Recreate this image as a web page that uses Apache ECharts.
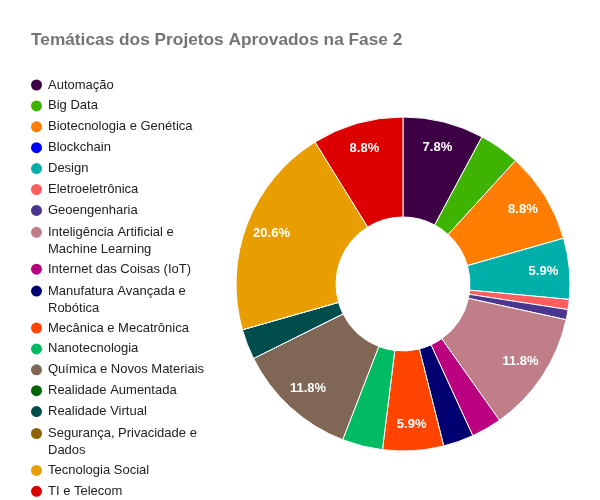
<!DOCTYPE html>
<html><head><meta charset="utf-8">
<script src="https://cdn.jsdelivr.net/npm/echarts@6/dist/echarts.min.js"></script>
<style>html,body{margin:0;padding:0;background:#fff}#c{width:600px;height:500px}</style>
</head><body><div id="c"></div>
<script>
const chartTitle = 'Temáticas dos Projetos Aprovados na Fase 2';
const categories = ['Automação','Big Data','Biotecnologia e Genética','Blockchain','Design','Eletroeletrônica','Geoengenharia','Inteligência Artificial e Machine Learning','Internet das Coisas (IoT)','Manufatura Avançada e Robótica','Mecânica e Mecatrônica','Nanotecnologia','Química e Novos Materiais','Realidade Aumentada','Realidade Virtual','Segurança, Privacidade e Dados','Tecnologia Social','TI e Telecom'];
const legendLabels = ['Automação','Big Data','Biotecnologia e Genética','Blockchain','Design','Eletroeletrônica','Geoengenharia','Inteligência Artificial e\nMachine Learning','Internet das Coisas (IoT)','Manufatura Avançada e\nRobótica','Mecânica e Mecatrônica','Nanotecnologia','Química e Novos Materiais','Realidade Aumentada','Realidade Virtual','Segurança, Privacidade e\nDados','Tecnologia Social','TI e Telecom'];
const values = [8,4,9,0,6,1,1,12,3,3,6,4,12,0,3,0,21,9];
const colors = ['#3d0045','#3fb400','#ff7d00','#0000ff','#00b0a8','#ff5e5e','#4b368f','#c07f88','#bb0080','#000070','#ff4400','#00bb62','#806655','#006400','#004d4d','#8b6400','#e99e00','#dc0000'];

const total = values.reduce((a,b)=>a+b,0);
const cx = 403, cy = 284, R0 = 67, R1 = 167, labelR = 141;
const font = 'Arial, "Liberation Sans", sans-serif';

const legends = [];
let yc = 85;
legendLabels.forEach((lab, i) => {
  const lines = lab.split('\n').length;
  const two = lines > 1;
  legends.push({
    orient: 'vertical', left: 29, top: two ? yc - 24.5 : yc - 8.5, padding: 0,
    itemWidth: 13, itemHeight: 13, icon: 'circle', itemGap: 0,
    selectedMode: false,
    data: [categories[i]],
    formatter: () => two ? ' \n' + lab : lab,
    textStyle: { fontSize: 13, fontFamily: font, color: '#222', lineHeight: 17 }
  });
  yc += 20.9 + 17 * (lines - 1);
});

const data = categories.map((n, i) => ({
  name: n, value: values[i],
  label: { show: values[i] / total >= 0.05 }
}));

const chart = echarts.init(document.getElementById('c'));
chart.setOption({
  animation: false,
  color: colors,
  title: { text: chartTitle, left: 31, top: 32, padding: 0,
    textStyle: { fontSize: 17.3, fontWeight: 'bold', color: '#757575', fontFamily: font } },
  legend: legends,
  series: [{
    type: 'pie', center: [cx, cy], radius: [R0, R1], startAngle: 90, clockwise: true,
    avoidLabelOverlap: false, silent: true,
    itemStyle: { borderColor: '#fff', borderWidth: 1 },
    label: { position: 'inside', color: '#fff', fontSize: 13, fontWeight: 'bold', fontFamily: font,
      formatter: p => (p.value / total * 100).toFixed(1) + '%' },
    labelLine: { show: false },
    labelLayout: function (p) {
      const i = p.dataIndex;
      let before = 0;
      for (let j = 0; j < i; j++) before += values[j];
      const a = (before + values[i] / 2) / total * 2 * Math.PI;
      return { x: cx + labelR * Math.sin(a), y: cy - labelR * Math.cos(a) };
    },
    data: data
  }]
});
</script></body></html>
